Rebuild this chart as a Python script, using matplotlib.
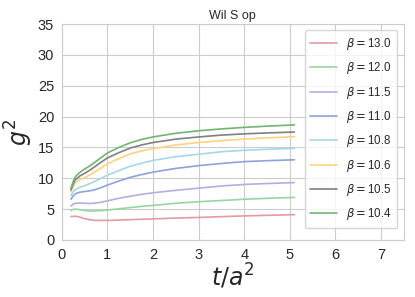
import matplotlib
matplotlib.use("Agg")
import matplotlib.pyplot as plt
import seaborn as sns
import numpy as np

sns.set_style("whitegrid")
plt.rcParams['font.family'] = ['Liberation Sans', 'DejaVu Sans']
plt.rcParams['mathtext.fontset'] = 'dejavusans'

t = [0.2, 0.25, 0.3, 0.4, 0.5, 0.6, 0.7, 0.85, 1.0, 1.25, 1.5, 1.75, 2.0, 2.5, 3.0, 3.5, 4.0, 4.5, 5.1]
betas = ["13.0", "12.0", "11.5", "11.0", "10.8", "10.6", "10.5", "10.4"]
g2_13_0 = [3.8, 3.82, 3.85, 3.7, 3.45, 3.3, 3.2, 3.17, 3.17, 3.22, 3.3, 3.36, 3.42, 3.55, 3.65, 3.78, 3.9, 4.0, 4.1]
g2_12_0 = [4.8, 4.95, 5.0, 4.9, 4.78, 4.7, 4.7, 4.75, 4.85, 5.05, 5.25, 5.45, 5.6, 5.95, 6.2, 6.4, 6.6, 6.75, 6.9]
g2_11_5 = [5.5, 5.8, 5.95, 6.0, 5.95, 5.92, 5.95, 6.1, 6.35, 6.75, 7.1, 7.4, 7.65, 8.05, 8.4, 8.75, 9.0, 9.15, 9.3]
g2_11_0 = [6.6, 7.15, 7.5, 7.75, 7.85, 7.95, 8.1, 8.45, 8.9, 9.55, 10.15, 10.6, 11.0, 11.6, 12.05, 12.4, 12.7, 12.85, 13.0]
g2_10_8 = [7.2, 7.8, 8.2, 8.55, 8.8, 9.1, 9.4, 9.95, 10.5, 11.25, 11.95, 12.45, 12.9, 13.5, 13.9, 14.3, 14.55, 14.7, 14.85]
g2_10_6 = [7.8, 8.7, 9.3, 9.8, 10.1, 10.5, 10.95, 11.65, 12.35, 13.2, 13.95, 14.45, 14.8, 15.4, 15.8, 16.1, 16.35, 16.55, 16.75]
g2_10_5 = [8.1, 9.1, 9.8, 10.4, 10.8, 11.25, 11.75, 12.55, 13.3, 14.15, 14.9, 15.4, 15.8, 16.35, 16.7, 17.0, 17.2, 17.35, 17.5]
g2_10_4 = [8.4, 9.5, 10.3, 11.0, 11.5, 11.95, 12.45, 13.3, 14.1, 15.0, 15.75, 16.3, 16.7, 17.3, 17.7, 18.0, 18.25, 18.45, 18.65]

series = [g2_13_0, g2_12_0, g2_11_5, g2_11_0, g2_10_8, g2_10_6, g2_10_5, g2_10_4]
colors = ['#e49aa2', '#98d4a0', '#b4aee0', '#8ea2da', '#a4d8e8', '#ffd27e', '#808080', '#72b472']

fig = plt.figure(figsize=(4.15, 2.97), dpi=100)
ax = fig.add_axes([0.149, 0.192, 0.824, 0.727])
for b, s, c in zip(betas, series, colors):
    ax.plot(t, s, color=c, lw=1.2, label=r'$\beta=$' + b)

ax.set_xlim(0, 7.5)
ax.set_ylim(0, 35)
ax.set_xticks(range(0, 8))
ax.set_yticks(range(0, 36, 5))
ax.tick_params(labelsize=10.5, pad=2)
ax.set_title("Wil S op", fontsize=9, pad=4)
ax.set_xlabel(r'$t/a^2$', fontsize=17, labelpad=0)
ax.set_ylabel(r'$g^2$', fontsize=17, labelpad=2)
ax.legend(loc='upper right', fontsize=8.3, frameon=True, handlelength=2.3,
          labelspacing=0.72, borderaxespad=0.55, handletextpad=0.8, borderpad=0.5)
for sp in ax.spines.values():
    sp.set_color('#cccccc')
fig.savefig("out.png", dpi=100)
